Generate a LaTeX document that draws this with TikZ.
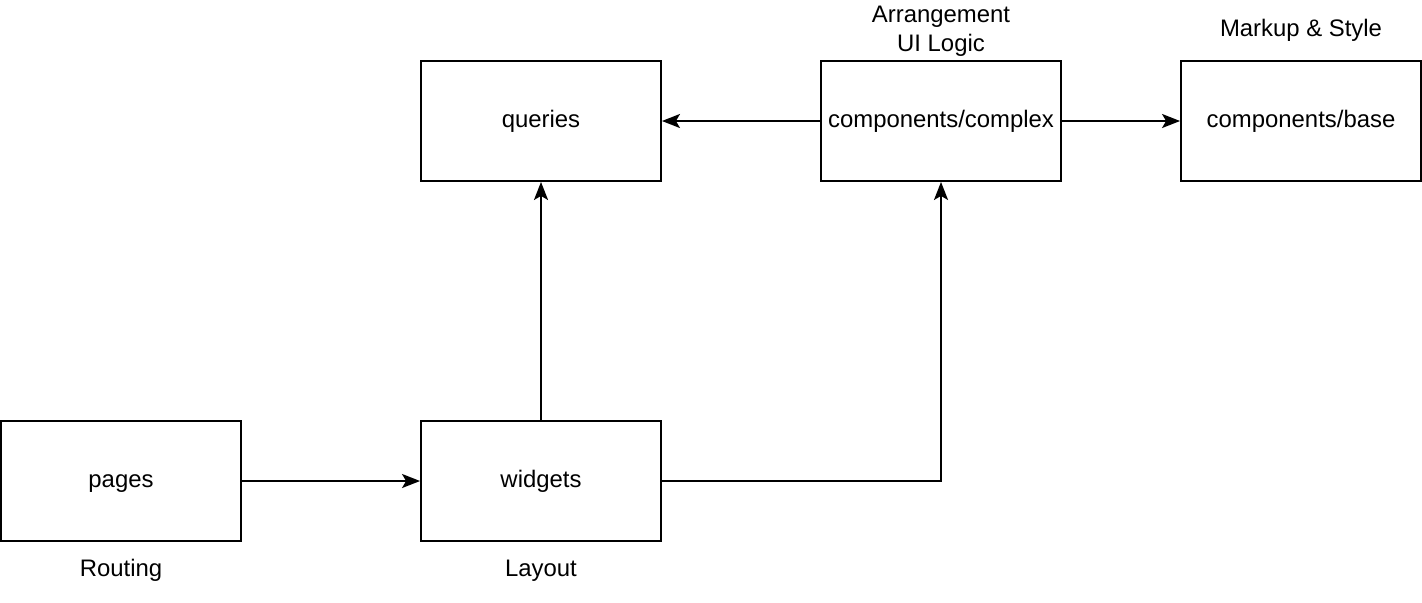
\documentclass[tikz,border=0pt]{standalone}
\usepackage{fontspec}
\setmainfont{Liberation Sans}
\usetikzlibrary{arrows.meta}
\tikzset{
  box/.style={draw, line width=1.1pt, minimum width=4.8cm, minimum height=2.4cm, inner sep=0pt},
  arr/.style={line width=1.1pt, -{Stealth[length=0.36cm, width=0.28cm, inset=0.08cm]}}
}
\begin{document}
\begin{tikzpicture}[x=0.02cm, y=-0.02cm, font=\fontsize{13.6}{16}\selectfont,
    every node/.style={text height=0.9em, text depth=0.2em}]
        \useasboundingbox (0,0) rectangle (1422,602);
        \node[box] (queries) at (541,121) {queries};
        \node[box] (complex) at (941,121) {components/complex};
        \node[box] (base) at (1301,121) {components/base};
        \node[box] (pages) at (121,481) {pages};
        \node[box] (widgets) at (541,481) {widgets};
        \node (arrangement) at (941,16) {Arrangement};
        \node (uilogic) at (941,45) {UI Logic};
        \node (markup) at (1301,30) {Markup \& Style};
        \node (routing) at (121,570) {Routing};
        \node (layout) at (541,570) {Layout};
        \draw[arr] (pages) -- (widgets);
        \draw[arr] (widgets) -- (queries);
        \draw[arr] (widgets.east) -| (complex.south);
        \draw[arr] (complex) -- (queries);
        \draw[arr] (complex) -- (base);
    \end{tikzpicture}
\end{document}
